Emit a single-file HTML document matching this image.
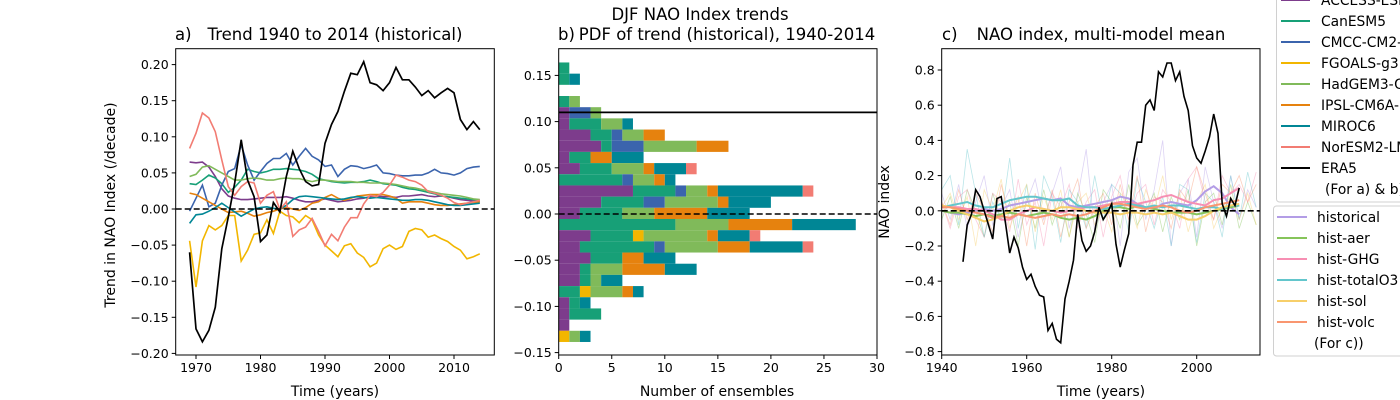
<!DOCTYPE html>
<html><head><meta charset="utf-8"><style>
html,body{margin:0;padding:0;background:#fff;}
svg{display:block;font-family:"DejaVu Sans","Liberation Sans",sans-serif;}
</style></head><body>
<svg id="fig" width="1400" height="400" viewBox="0 0 1400 400" xmlns="http://www.w3.org/2000/svg"></svg>
<script>
// ---------- Panel a data (trend per decade, 1969..2014) ----------
const yearsA = [];
for (let y = 1969; y <= 2014; y++) yearsA.push(y);
const era5Trend = [-0.060,-0.166,-0.184,-0.168,-0.136,-0.055,-0.011,0.036,0.096,0.040,0.017,-0.045,-0.036,0.009,-0.004,0.045,0.080,0.056,0.038,0.032,0.034,0.091,0.117,0.135,0.163,0.188,0.186,0.204,0.175,0.172,0.164,0.175,0.196,0.179,0.179,0.169,0.157,0.164,0.154,0.161,0.167,0.161,0.124,0.110,0.121,0.110];
const norTrend = [0.084,0.105,0.133,0.126,0.107,0.068,0.031,0.019,0.031,0.038,0.036,0.008,0.019,0.024,-0.001,0.010,-0.038,-0.029,-0.025,-0.013,-0.031,-0.051,-0.035,-0.044,-0.025,-0.012,-0.012,0.007,0.019,0.017,0.023,0.033,0.047,0.044,0.040,0.038,0.033,0.024,0.022,0.019,0.015,0.009,0.006,0.008,0.010,0.012];
const fgoalsTrend = [-0.044,-0.108,-0.044,-0.023,-0.029,-0.023,-0.009,-0.009,-0.072,-0.057,-0.035,-0.033,-0.015,-0.034,-0.003,-0.009,-0.011,-0.019,-0.009,-0.015,-0.036,-0.050,-0.058,-0.066,-0.051,-0.048,-0.061,-0.067,-0.080,-0.075,-0.055,-0.050,-0.056,-0.052,-0.031,-0.027,-0.029,-0.039,-0.036,-0.041,-0.045,-0.052,-0.057,-0.069,-0.066,-0.062];
const cmccTrend = [-0.003,0.015,0.033,0.003,0.008,0.033,0.052,0.056,0.089,0.061,0.040,0.052,0.063,0.070,0.070,0.077,0.061,0.073,0.084,0.073,0.068,0.059,0.061,0.045,0.055,0.060,0.059,0.056,0.058,0.061,0.050,0.049,0.047,0.046,0.046,0.047,0.047,0.050,0.055,0.050,0.049,0.047,0.050,0.056,0.058,0.059];
const accessTrend = [0.065,0.064,0.065,0.058,0.045,0.028,0.018,0.015,0.013,0.013,0.014,0.015,0.016,0.016,0.016,0.017,0.015,0.012,0.010,0.010,0.012,0.014,0.012,0.010,0.011,0.012,0.014,0.015,0.017,0.018,0.017,0.017,0.016,0.018,0.018,0.019,0.020,0.018,0.017,0.018,0.017,0.015,0.013,0.012,0.011,0.010];
const canTrend = [0.035,0.034,0.040,0.047,0.043,0.035,0.023,0.030,0.040,0.055,0.052,0.050,0.052,0.055,0.055,0.056,0.055,0.054,0.052,0.048,0.042,0.040,0.038,0.037,0.036,0.037,0.037,0.038,0.040,0.038,0.035,0.034,0.033,0.030,0.028,0.027,0.025,0.023,0.021,0.018,0.017,0.016,0.015,0.014,0.013,0.012];
const hadTrend = [0.045,0.048,0.058,0.060,0.055,0.050,0.045,0.040,0.040,0.042,0.043,0.042,0.040,0.040,0.042,0.043,0.042,0.042,0.040,0.038,0.040,0.040,0.039,0.038,0.038,0.038,0.037,0.037,0.036,0.036,0.036,0.035,0.034,0.032,0.030,0.029,0.027,0.025,0.023,0.021,0.020,0.019,0.018,0.016,0.014,0.013];
const ipslTrend = [0.022,0.020,0.015,0.010,0.005,0.000,-0.005,-0.004,-0.003,-0.006,-0.010,-0.008,-0.005,-0.003,0.000,0.002,0.000,-0.002,0.002,0.008,0.010,0.016,0.020,0.015,0.012,0.015,0.018,0.019,0.020,0.020,0.020,0.018,0.015,0.008,0.010,0.010,0.010,0.008,0.006,0.005,0.005,0.006,0.007,0.008,0.009,0.010];
const mirocTrend = [-0.020,-0.008,-0.007,-0.003,0.002,0.008,0.002,-0.004,-0.010,-0.005,0.000,0.002,0.003,0.001,0.000,0.005,0.013,0.017,0.018,0.017,0.016,0.015,0.014,0.013,0.014,0.016,0.017,0.016,0.015,0.016,0.015,0.014,0.013,0.012,0.012,0.013,0.013,0.012,0.010,0.008,0.006,0.005,0.005,0.006,0.007,0.008];
const ticksAx = [1970,1980,1990,2000,2010];
const ticksAy = [0.20,0.15,0.10,0.05,0.00,-0.05,-0.10,-0.15,-0.20];

// ---------- Panel b data (histogram counts per bin, top -> bottom) ----------
const binTop = 0.164;
const binWidth = 0.0121;
const histACCESS = [0,0,0,0,1,1,3,4,1,2,0,7,4,2,0,3,2,3,2,2,0,1,1,1,0];
const histCanESM5 = [1,1,0,1,0,3,2,1,2,3,6,4,4,4,11,4,7,3,1,1,2,1,3,0,0];
const histCMCC = [0,0,0,0,2,0,1,3,0,0,1,1,2,0,0,0,1,0,0,0,0,0,0,0,0];
const histFGOALS = [0,0,0,0,0,0,0,0,0,0,0,0,0,0,0,1,0,0,0,0,1,0,0,0,1];
const histHadGEM3 = [0,0,0,1,1,2,2,5,0,3,2,2,5,3,5,6,5,0,3,1,3,0,0,0,1];
const histIPSL = [0,0,0,0,0,0,2,3,2,1,1,1,1,5,6,1,3,2,4,0,1,0,0,0,0];
const histMIROC6 = [0,1,0,0,0,1,0,0,3,3,1,8,4,4,6,3,5,3,3,2,1,1,0,0,1];
const histNorESM2 = [0,0,0,0,0,0,0,0,0,1,0,1,0,0,0,1,1,0,0,0,0,0,0,0,0];
const era5Line = 0.11;
const ticksBx = [0,5,10,15,20,25,30];
const ticksBy = [0.15,0.10,0.05,0.00,-0.05,-0.10,-0.15];

// ---------- Panel c data ----------
const yearsEra = [];
for (let y = 1945; y <= 2010; y++) yearsEra.push(y);
const era5Index = [-0.29,-0.08,-0.02,0.12,0.08,0.00,-0.08,-0.16,0.07,0.08,-0.07,-0.24,-0.15,-0.21,-0.32,-0.39,-0.36,-0.43,-0.48,-0.49,-0.68,-0.64,-0.73,-0.75,-0.50,-0.40,-0.28,-0.02,-0.17,-0.23,-0.20,-0.12,0.02,-0.05,-0.01,0.04,-0.19,-0.32,-0.22,-0.13,0.26,0.39,0.39,0.60,0.63,0.57,0.79,0.76,0.84,0.84,0.74,0.79,0.65,0.57,0.37,0.30,0.27,0.34,0.42,0.55,0.44,0.04,-0.03,0.07,0.03,0.13];
const yearsMean = [];
for (let y = 1940; y <= 2010; y += 2) yearsMean.push(y);
const meanHistorical = [0.00,-0.01,-0.02,-0.01,0.00,0.01,0.00,0.01,0.03,0.04,0.05,0.06,0.07,0.06,0.07,0.03,0.02,0.03,0.04,0.05,0.06,0.08,0.07,0.04,0.02,0.01,0.04,0.05,0.04,0.03,0.06,0.11,0.14,0.10,0.02,-0.02];
const meanAer = [0.00,-0.01,-0.01,-0.02,-0.03,-0.02,-0.03,-0.02,-0.01,-0.02,-0.03,-0.02,-0.01,-0.02,-0.04,-0.05,-0.04,-0.05,-0.03,0.00,0.02,0.02,0.01,0.03,0.02,0.01,0.00,-0.01,-0.01,-0.01,-0.02,-0.01,0.00,0.01,0.02,0.03];
const meanGHG = [0.03,0.02,0.02,0.01,0.01,0.00,-0.02,-0.05,-0.05,-0.02,0.00,0.02,0.01,0.00,-0.01,0.00,0.01,0.02,0.02,0.03,0.04,0.05,0.05,0.04,0.05,0.06,0.08,0.09,0.07,0.05,0.04,0.03,0.06,0.07,0.10,0.13];
const meanO3 = [0.02,0.03,0.04,0.05,0.03,0.02,0.02,0.04,0.06,0.07,0.08,0.08,0.07,0.06,0.06,0.07,0.03,0.02,0.02,0.01,0.02,0.03,0.04,0.03,0.02,0.03,0.02,0.03,0.03,0.02,0.01,0.02,0.02,0.01,0.03,0.03];
const meanSol = [0.03,0.02,0.00,-0.02,-0.04,-0.06,-0.05,-0.03,0.00,0.02,0.03,0.02,0.01,0.00,0.02,0.02,0.01,0.00,-0.01,-0.01,-0.01,-0.02,-0.01,-0.01,-0.02,-0.01,-0.02,-0.01,-0.03,-0.05,-0.05,-0.03,0.00,0.02,0.03,0.04];
const meanVolc = [0.02,0.02,0.01,0.00,-0.01,-0.02,-0.04,-0.03,-0.04,-0.02,-0.03,-0.04,-0.03,-0.02,-0.03,-0.02,-0.03,-0.02,0.00,0.02,0.04,0.04,0.03,0.02,0.01,0.02,0.03,0.02,0.00,-0.01,0.00,0.02,0.03,0.04,0.05,0.06];
const yearsThin = [];
for (let y = 1940; y <= 2014; y += 2) yearsThin.push(y);
const thinHistorical = [0.10,-0.05,0.15,-0.10,0.05,0.20,-0.08,0.02,0.12,-0.15,0.05,0.18,-0.05,0.10,0.25,-0.10,0.08,0.35,-0.12,0.05,0.15,-0.20,0.22,0.30,-0.05,0.12,0.40,-0.20,0.10,0.18,-0.15,0.25,0.05,-0.10,0.20,-0.05,0.12,0.02];
const thinAer = [-0.05,0.08,-0.10,0.12,0.00,-0.15,0.10,-0.05,0.05,-0.20,0.08,-0.10,0.12,-0.08,0.06,-0.15,0.10,-0.02,-0.18,0.12,0.05,-0.10,0.15,-0.08,0.00,0.10,-0.12,0.08,-0.05,0.12,-0.20,0.05,0.10,-0.08,0.15,-0.10,0.05,-0.08];
const thinGHG = [0.05,-0.10,0.08,0.12,-0.05,-0.15,0.10,0.05,-0.12,0.18,-0.08,0.05,-0.20,0.10,0.02,0.15,-0.10,0.05,0.12,-0.15,0.08,0.20,-0.05,0.10,0.15,-0.08,0.12,0.05,-0.10,0.18,0.25,0.05,-0.05,0.20,0.10,0.15,0.05,0.22];
const thinO3 = [0.12,0.20,-0.08,0.35,0.10,-0.15,0.05,-0.05,0.30,-0.10,0.15,-0.22,0.20,0.08,-0.18,0.12,0.05,-0.10,0.20,-0.05,0.15,0.10,-0.12,0.18,0.05,-0.10,0.08,-0.20,0.15,0.12,-0.18,0.10,0.05,-0.15,0.20,-0.05,0.22,0.02];
const thinSol = [0.02,0.10,-0.05,0.08,-0.20,0.12,0.00,0.18,-0.10,0.05,0.15,-0.12,0.08,-0.05,0.12,-0.15,0.05,0.10,-0.08,0.02,-0.12,0.10,0.05,-0.10,0.12,0.00,0.20,-0.05,0.10,-0.12,0.05,0.15,-0.10,0.02,0.08,-0.05,0.10,-0.08];
const thinVolc = [0.05,-0.08,0.12,-0.05,0.10,0.00,-0.12,0.15,-0.05,0.08,-0.20,0.10,-0.08,0.12,-0.15,0.05,0.18,-0.10,0.02,0.10,-0.08,0.15,-0.05,0.20,-0.12,0.08,0.05,-0.10,0.12,0.05,0.25,0.10,-0.05,0.15,0.10,0.20,0.05,0.15];
const ticksCx = [1940,1960,1980,2000];
const ticksCy = [0.8,0.6,0.4,0.2,0.0,-0.2,-0.4,-0.6,-0.8];

// ---------- helpers ----------
const NS = "http://www.w3.org/2000/svg";
const svg = document.getElementById('fig');
function mk(tag, attrs, parent) {
  const e = document.createElementNS(NS, tag);
  for (const k in attrs) e.setAttribute(k, attrs[k]);
  (parent || svg).appendChild(e);
  return e;
}
function txt(s, x, y, size, anchor, parent) {
  const t = mk('text', {x: x, y: y, 'font-size': size, 'text-anchor': anchor || 'middle', fill: '#000'}, parent);
  t.textContent = s;
  return t;
}
function fmt(v, d) { const s = Math.abs(v).toFixed(d); return (v < -1e-9 ? '\u2212' : '') + s; }
function linePath(xs, ys, sx, sy) {
  const n = Math.min(xs.length, ys.length);
  let d = '';
  for (let i = 0; i < n; i++) d += (i ? 'L' : 'M') + sx(xs[i]).toFixed(1) + ',' + sy(ys[i]).toFixed(1);
  return d;
}
const TITLE = 16.5, AXT = 14, TICK = 12.5, LEG = 13.8;

// ---------- axes geometry ----------
const A = {x0: 175.7, x1: 494.3, y0: 48.7, y1: 355};
const axA = v => 196 + (v - 1970) * 6.45;
const ayA = v => 209 - v * 722;
const B = {x0: 558.7, x1: 877, y0: 48.7, y1: 355};
const axB = c => 558.7 + c * 10.61;
const ayB = v => 214 - v * 924;
const C = {x0: 941.7, x1: 1260, y0: 48.7, y1: 355};
const axC = y => 941.7 + (y - 1940) * 4.25;
const ayC = v => 210.8 - v * 176;

// suptitle
const sup = txt('DJF NAO Index trends', 700, 20, TITLE);



// ---------- Panel A ----------
const gA = mk('g', {});


mk('clipPath', {id: 'clipA'}, gA);
mk('rect', {x: A.x0, y: A.y0, width: A.x1 - A.x0, height: A.y1 - A.y0}, gA.lastChild);
const modelsA = [
  ['access-esm1-5-line', accessTrend, '#7d3c8c'],
  ['canesm5-line', canTrend, '#17a077'],
  ['cmcc-cm2-line', cmccTrend, '#3b64ad'],
  ['fgoals-g3-line', fgoalsTrend, '#f2b600'],
  ['hadgem3-line', hadTrend, '#80ba5a'],
  ['ipsl-cm6a-line', ipslTrend, '#e6820e'],
  ['miroc6-line', mirocTrend, '#008695'],
  ['noresm2-line', norTrend, '#f27c73'],
];
for (const m of modelsA) {
  const p = mk('path', {d: linePath(yearsA, m[1], axA, ayA), fill: 'none', stroke: m[2], 'stroke-width': 1.6, 'clip-path': 'url(#clipA)'}, gA);
  
  
}
const zA = mk('line', {x1: A.x0, x2: A.x1, y1: ayA(0), y2: ayA(0), stroke: '#000', 'stroke-width': 1.6, 'stroke-dasharray': '6,3'}, gA);


const eA = mk('path', {d: linePath(yearsA, era5Trend, axA, ayA), fill: 'none', stroke: '#000', 'stroke-width': 1.7}, gA);


mk('rect', {x: A.x0, y: A.y0, width: A.x1 - A.x0, height: A.y1 - A.y0, fill: 'none', stroke: '#000', 'stroke-width': 1}, gA);
for (const t of ticksAx) {
  const x = axA(t);
  mk('line', {x1: x, x2: x, y1: A.y1, y2: A.y1 + 4, stroke: '#000'}, gA);
  const l = txt(String(t), x, A.y1 + 17, TICK, 'middle', gA);
  
  
}
for (const t of ticksAy) {
  const y = ayA(t);
  mk('line', {x1: A.x0 - 4, x2: A.x0, y1: y, y2: y, stroke: '#000'}, gA);
  const l = txt(fmt(t, 2), A.x0 - 7, y + 4.5, TICK, 'end', gA);
  
  
}
const xlA = txt('Time (years)', 335, 396, AXT, 'middle', gA);


const ylA = txt('Trend in NAO Index (/decade)', 0, 0, AXT, 'middle', gA);
ylA.setAttribute('transform', 'translate(115,205) rotate(-90)');


const tA1 = txt('a)', 175, 40, TITLE, 'start', gA);


const tA2 = txt('Trend 1940 to 2014 (historical)', 335, 40, TITLE, 'middle', gA);



// ---------- Panel B ----------
const gB = mk('g', {});


const stacks = [
  ['access', histACCESS, '#7d3c8c'],
  ['canesm5', histCanESM5, '#17a077'],
  ['cmcc', histCMCC, '#3b64ad'],
  ['fgoals', histFGOALS, '#f2b600'],
  ['hadgem3', histHadGEM3, '#80ba5a'],
  ['ipsl', histIPSL, '#e6820e'],
  ['miroc6', histMIROC6, '#008695'],
  ['noresm2', histNorESM2, '#f27c73'],
];
const nb = histACCESS.length;
for (let i = 0; i < nb; i++) {
  const top = binTop - i * binWidth, bot = top - binWidth;
  let cum = 0;
  for (const s of stacks) {
    const c = s[1][i];
    if (c > 0) {
      const r = mk('rect', {x: axB(cum), y: ayB(top), width: axB(cum + c) - axB(cum), height: ayB(bot) - ayB(top), fill: s[2]}, gB);
      
      
    }
    cum += c;
  }
}
const eB = mk('line', {x1: B.x0, x2: B.x1, y1: ayB(era5Line), y2: ayB(era5Line), stroke: '#000', 'stroke-width': 1.7}, gB);


const zB = mk('line', {x1: B.x0, x2: B.x1, y1: ayB(0), y2: ayB(0), stroke: '#000', 'stroke-width': 1.6, 'stroke-dasharray': '6,3'}, gB);


mk('rect', {x: B.x0, y: B.y0, width: B.x1 - B.x0, height: B.y1 - B.y0, fill: 'none', stroke: '#000', 'stroke-width': 1}, gB);
for (const t of ticksBx) {
  const x = axB(t);
  mk('line', {x1: x, x2: x, y1: B.y1, y2: B.y1 + 4, stroke: '#000'}, gB);
  const l = txt(String(t), x, B.y1 + 17, TICK, 'middle', gB);
  
  
}
for (const t of ticksBy) {
  const y = ayB(t);
  mk('line', {x1: B.x0 - 4, x2: B.x0, y1: y, y2: y, stroke: '#000'}, gB);
  const l = txt(fmt(t, 2), B.x0 - 7, y + 4.5, TICK, 'end', gB);
  
  
}
const xlB = txt('Number of ensembles', 717, 396, AXT, 'middle', gB);


const tB1 = txt('b)', 558, 40, TITLE, 'start', gB);


const tB2 = txt('PDF of trend (historical), 1940-2014', 727, 40, TITLE, 'middle', gB);



// ---------- Panel C ----------
const gC = mk('g', {});


mk('clipPath', {id: 'clipC'}, gC);
mk('rect', {x: C.x0, y: C.y0, width: C.x1 - C.x0, height: C.y1 - C.y0}, gC.lastChild);
const expC = [
  ['historical', thinHistorical, meanHistorical, '#b39de6'],
  ['hist-aer', thinAer, meanAer, '#86c45a'],
  ['hist-ghg', thinGHG, meanGHG, '#f78fb3'],
  ['hist-totalo3', thinO3, meanO3, '#63c6cc'],
  ['hist-sol', thinSol, meanSol, '#f7cf6a'],
  ['hist-volc', thinVolc, meanVolc, '#f99670'],
];
for (const e of expC) {
  const p = mk('path', {d: linePath(yearsThin, e[1], axC, ayC), fill: 'none', stroke: e[3], 'stroke-width': 0.8, opacity: 0.45, 'clip-path': 'url(#clipC)'}, gC);
  
  
}
for (const e of expC) {
  const p = mk('path', {d: linePath(yearsMean, e[2], axC, ayC), fill: 'none', stroke: e[3], 'stroke-width': 2, 'clip-path': 'url(#clipC)'}, gC);
  
  
}
const zC = mk('line', {x1: C.x0, x2: C.x1, y1: ayC(0), y2: ayC(0), stroke: '#000', 'stroke-width': 1.6, 'stroke-dasharray': '6,3'}, gC);


const eC = mk('path', {d: linePath(yearsEra, era5Index, axC, ayC), fill: 'none', stroke: '#000', 'stroke-width': 1.6}, gC);


mk('rect', {x: C.x0, y: C.y0, width: C.x1 - C.x0, height: C.y1 - C.y0, fill: 'none', stroke: '#000', 'stroke-width': 1}, gC);
for (const t of ticksCx) {
  const x = axC(t);
  mk('line', {x1: x, x2: x, y1: C.y1, y2: C.y1 + 4, stroke: '#000'}, gC);
  const l = txt(String(t), x, C.y1 + 17, TICK, 'middle', gC);
  
  
}
for (const t of ticksCy) {
  const y = ayC(t);
  mk('line', {x1: C.x0 - 4, x2: C.x0, y1: y, y2: y, stroke: '#000'}, gC);
  const l = txt(fmt(t, 1), C.x0 - 7, y + 4.5, TICK, 'end', gC);
  
  
}
const xlC = txt('Time (years)', 1101, 396, AXT, 'middle', gC);


const ylC = txt('NAO index', 0, 0, AXT, 'middle', gC);
ylC.setAttribute('transform', 'translate(889,202) rotate(-90)');


const tC1 = txt('c)', 942, 40, TITLE, 'start', gC);


const tC2 = txt('NAO index, multi-model mean', 1101, 40, TITLE, 'middle', gC);



// ---------- Legends ----------
const lg1 = mk('g', {});


mk('rect', {x: 1276.5, y: -6, width: 140, height: 208, rx: 3, fill: '#fff', stroke: '#d0d0d0', 'stroke-width': 1}, lg1);
const leg1 = [['ACCESS-ESM1-5', '#7d3c8c'], ['CanESM5', '#17a077'], ['CMCC-CM2-SR5', '#3b64ad'], ['FGOALS-g3', '#f2b600'], ['HadGEM3-GC31-LL', '#80ba5a'], ['IPSL-CM6A-LR', '#e6820e'], ['MIROC6', '#008695'], ['NorESM2-LM', '#f27c73'], ['ERA5', '#000']];
leg1.forEach((e, i) => {
  const y = 0 + i * 21;
  const g = mk('g', {}, lg1);
  
  
  mk('line', {x1: 1281, x2: 1310, y1: y, y2: y, stroke: e[1], 'stroke-width': 2}, g);
  txt(e[0], 1321, y + 5, LEG, 'start', g);
});
const n1 = txt('(For a) & b))', 1325, 194, LEG, 'start', lg1);



const lg2 = mk('g', {});


mk('rect', {x: 1273.5, y: 206, width: 140, height: 150, rx: 3, fill: '#fff', stroke: '#d0d0d0', 'stroke-width': 1}, lg2);
const leg2 = [['historical', '#b39de6'], ['hist-aer', '#86c45a'], ['hist-GHG', '#f78fb3'], ['hist-totalO3', '#63c6cc'], ['hist-sol', '#f7cf6a'], ['hist-volc', '#f99670']];
leg2.forEach((e, i) => {
  const y = 217 + i * 21;
  const g = mk('g', {}, lg2);
  
  
  mk('line', {x1: 1277, x2: 1307, y1: y, y2: y, stroke: e[1], 'stroke-width': 2}, g);
  txt(e[0], 1317, y + 5, LEG, 'start', g);
});
const n2 = txt('(For c))', 1314, 348, LEG, 'start', lg2);


</script>
</body></html>
